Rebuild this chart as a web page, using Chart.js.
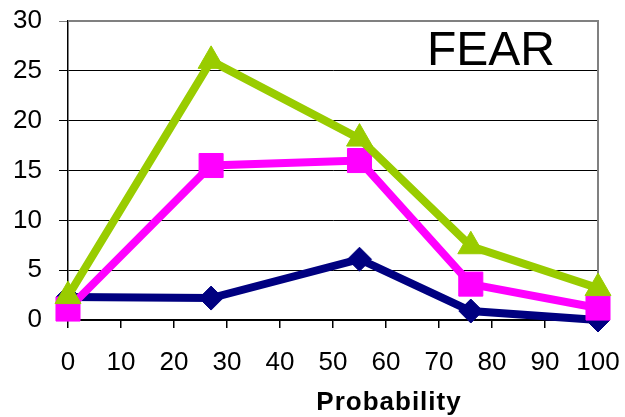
<!DOCTYPE html>
<html>
<head>
<meta charset="utf-8">
<script src="https://cdn.jsdelivr.net/npm/chart.js@4/dist/chart.umd.min.js"></script>
<style>
  html, body { margin: 0; padding: 0; background: #fff; }
  #wrap { width: 625px; height: 417px; position: relative; }
</style>
</head>
<body>
<div id="wrap"><canvas id="c" width="625" height="417"></canvas></div>
<script>
// Probability levels (x) and the three response series
const probability = [0, 27, 55, 76, 100];
const seriesLow = [2.3, 2.2, 6.1, 0.9, 0.0];
const seriesMid = [1.1, 15.5, 16.0, 3.6, 1.2];
const seriesHigh = [2.4, 26.0, 18.2, 7.4, 3.2];
const yTicks = [0, 5, 10, 15, 20, 25, 30];
const xTicks = [0, 10, 20, 30, 40, 50, 60, 70, 80, 90, 100];
const panelTitle = 'FEAR';
const xAxisTitle = 'Probability';

const toPoints = vals => vals.map((v, i) => ({ x: probability[i], y: v }));

const FONT = '"Liberation Sans", Arial, sans-serif';

// Gray frame on the top and right of the plot area, plus the text labels
const decorations = {
  id: 'decorations',
  beforeDatasetsDraw(chart) {
    const { ctx, chartArea: a } = chart;
    ctx.save();
    ctx.strokeStyle = '#808080';
    ctx.lineWidth = 2;
    ctx.beginPath();
    ctx.moveTo(a.left, a.top);
    ctx.lineTo(a.right, a.top);
    ctx.lineTo(a.right, a.bottom);
    ctx.stroke();
    ctx.restore();
  },
  afterDraw(chart) {
    const { ctx } = chart;
    ctx.save();
    ctx.fillStyle = '#000';
    ctx.font = '48px ' + FONT;
    ctx.textAlign = 'left';
    ctx.textBaseline = 'alphabetic';
    ctx.fillText(panelTitle, 427, 65);
    ctx.font = 'bold 26px ' + FONT;
    ctx.textAlign = 'center';
    if ('letterSpacing' in ctx) ctx.letterSpacing = '1px';
    ctx.fillText(xAxisTitle, 389, 410);
    ctx.restore();
  }
};

new Chart(document.getElementById('c'), {
  type: 'line',
  data: {
    datasets: [
      {
        data: toPoints(seriesLow),
        borderColor: '#000080',
        backgroundColor: '#000080',
        borderWidth: 8,
        pointStyle: 'rectRot',
        pointRadius: 12,
        pointBorderWidth: 1,
        clip: false,
        order: 2
      },
      {
        data: toPoints(seriesMid),
        borderColor: '#FF00FF',
        backgroundColor: '#FF00FF',
        borderWidth: 8,
        pointStyle: 'rect',
        pointRadius: 17,
        pointBorderWidth: 1,
        clip: false,
        order: 1
      },
      {
        data: toPoints(seriesHigh),
        borderColor: '#99CC00',
        backgroundColor: '#99CC00',
        borderWidth: 8,
        pointStyle: 'triangle',
        pointRadius: 15,
        pointBorderWidth: 1,
        clip: false,
        order: 0
      }
    ]
  },
  options: {
    responsive: false,
    animation: false,
    events: [],
    layout: { padding: { top: 21, right: 27, left: 0, bottom: 0 } },
    plugins: { legend: { display: false }, tooltip: { enabled: false }, title: { display: false } },
    elements: { line: { tension: 0 } },
    scales: {
      x: {
        type: 'linear',
        min: 0,
        max: 100,
        afterBuildTicks: s => { s.ticks = xTicks.map(v => ({ value: v })); },
        afterFit: s => { s.height = 97; s.paddingLeft = 0; s.paddingRight = 0; },
        ticks: { font: { family: FONT, size: 26 }, color: '#000', padding: 19, maxRotation: 0, autoSkip: false },
        grid: { drawOnChartArea: false, drawTicks: true, tickLength: 8, color: '#000', lineWidth: 1.5 },
        border: { display: true, color: '#000', width: 1.5 }
      },
      y: {
        min: 0,
        max: 30,
        afterBuildTicks: s => { s.ticks = yTicks.map(v => ({ value: v })); },
        afterFit: s => { s.width = 68; s.paddingTop = 0; s.paddingBottom = 0; },
        ticks: { font: { family: FONT, size: 26 }, color: '#000', padding: 17 },
        grid: {
          drawOnChartArea: true,
          drawTicks: true,
          tickLength: 9,
          color: ctx => (ctx.tick && ctx.tick.value === 30 ? '#808080' : '#000'),
          lineWidth: 1
        },
        border: { display: true, color: '#000', width: 1.5 }
      }
    }
  },
  plugins: [decorations]
});
</script>
</body>
</html>
